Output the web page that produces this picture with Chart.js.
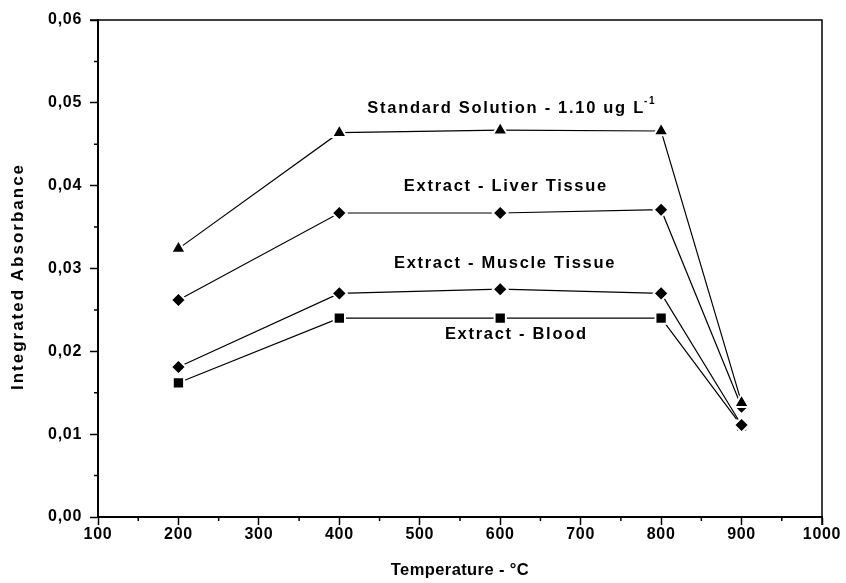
<!DOCTYPE html>
<html>
<head>
<meta charset="utf-8">
<script src="https://cdn.jsdelivr.net/npm/chart.js@4.4.0/dist/chart.umd.min.js"></script>
<style>
  html, body { margin: 0; padding: 0; background: #fff; }
  #chart { display: block; }
</style>
</head>
<body>
<canvas id="chart" width="846" height="583"></canvas>
<script>
// temperatures (°C) and integrated absorbance
const temps = [200, 400, 600, 800, 900];
const standardSol = [0.0324, 0.0464, 0.0467, 0.0466, 0.0138];
const liverTissue = [0.0262, 0.0367, 0.0367, 0.0371, 0.0133];
const muscleTissue = [0.0181, 0.0270, 0.0275, 0.0270, 0.0111];
const bloodExtract = [0.0162, 0.0240, 0.0240, 0.0240, 0.0110];

const xMinor = [150, 250, 350, 450, 550, 650, 750, 850, 950];
const yMinor = [0.005, 0.015, 0.025, 0.035, 0.045, 0.055];

const FAMILY = '"Liberation Sans", Arial, sans-serif';
const NOTE_FONT = 'bold 16.5px ' + FAMILY;

function pts(ys) {
    return temps.map((t, i) => ({ x: t, y: ys[i] }));
}

function series(label, ys, style, r) {
    return {
        label: label,
        data: pts(ys),
        borderColor: '#000',
        borderWidth: 1.2,
        pointStyle: style,
        pointRadius: r,
        pointBackgroundColor: '#000',
        pointBorderColor: '#fff',
        pointBorderWidth: 2,
        tension: 0
    };
}

// labels placed next to each curve (data units)
const notes = [
    { text: 'Standard Solution - 1.10 ug L', sup: '-1', x: 615, y: 0.0493 },
    { text: 'Extract - Liver Tissue', x: 607, y: 0.0399 },
    { text: 'Extract - Muscle Tissue', x: 606, y: 0.0306 },
    { text: 'Extract - Blood', x: 620, y: 0.0220 }
];

const spacingPlugin = {
    id: 'spacing',
    beforeLayout(chart) { chart.ctx.letterSpacing = '0.7px'; },
    beforeDraw(chart) { chart.ctx.letterSpacing = '0.7px'; }
};

const framePlugin = {
    id: 'frame',
    afterDraw(chart) {
        const ctx = chart.ctx;
        const a = chart.chartArea;
        const xs = chart.scales.x, ys = chart.scales.y;
        ctx.save();
        ctx.strokeStyle = '#000';
        // top and right edges
        ctx.lineWidth = 1.5;
        ctx.beginPath();
        ctx.moveTo(a.left - 8, a.top);
        ctx.lineTo(a.right, a.top);
        ctx.lineTo(a.right, a.bottom + 8);
        ctx.stroke();
        // minor ticks
        ctx.beginPath();
        xMinor.forEach(v => {
            const px = xs.getPixelForValue(v);
            ctx.moveTo(px, a.bottom);
            ctx.lineTo(px, a.bottom + 4);
        });
        yMinor.forEach(v => {
            const py = ys.getPixelForValue(v);
            ctx.moveTo(a.left - 4, py);
            ctx.lineTo(a.left, py);
        });
        ctx.stroke();

        // curve labels
        ctx.fillStyle = '#000';
        ctx.textBaseline = 'middle';
        ctx.textAlign = 'left';
        ctx.letterSpacing = '1.7px';
        notes.forEach(n => {
            const px = xs.getPixelForValue(n.x);
            const py = ys.getPixelForValue(n.y);
            ctx.font = NOTE_FONT;
            const w = ctx.measureText(n.text).width;
            let sw = 0;
            if (n.sup) {
                ctx.font = 'bold 10px ' + FAMILY;
                sw = ctx.measureText(n.sup).width;
            }
            const x0 = px - (w + sw) / 2;
            ctx.font = NOTE_FONT;
            ctx.fillText(n.text, x0, py);
            if (n.sup) {
                ctx.font = 'bold 10px ' + FAMILY;
                ctx.fillText(n.sup, x0 + w - 1, py - 7);
            }
        });

        // axis titles
        ctx.textAlign = 'center';
        ctx.font = 'bold 16.5px ' + FAMILY;
        ctx.letterSpacing = '0.4px';
        ctx.fillText('Temperature - °C', (a.left + a.right) / 2, 570);
        ctx.font = 'bold 17px ' + FAMILY;
        ctx.letterSpacing = '2px';
        ctx.translate(18, (a.top + a.bottom) / 2 + 8);
        ctx.rotate(-Math.PI / 2);
        ctx.fillText('Integrated Absorbance', 0, 0);
        ctx.restore();
    }
};

const tickFont = { family: FAMILY, size: 16, weight: 'bold' };

new Chart(document.getElementById('chart'), {
    type: 'line',
    data: {
        datasets: [
            series('Standard Solution - 1.10 ug L-1', standardSol, 'triangle', 8.5),
            series('Extract - Liver Tissue', liverTissue, 'rectRot', 7.5),
            series('Extract - Muscle Tissue', muscleTissue, 'rectRot', 7.5),
            series('Extract - Blood', bloodExtract, 'rect', 8)
        ]
    },
    options: {
        responsive: false,
        animation: false,
        layout: { padding: { top: 20, right: 24, left: 0, bottom: 0 } },
        plugins: {
            legend: { display: false },
            tooltip: { enabled: false }
        },
        scales: {
            x: {
                type: 'linear',
                min: 100,
                max: 1000,
                afterFit: (s) => { s.height = 66; },
                ticks: {
                    stepSize: 100,
                    color: '#000',
                    font: tickFont,
                    padding: 0,
                    maxRotation: 0,
                    callback: (v) => String(v)
                },
                grid: { drawOnChartArea: false, drawTicks: true, tickLength: 8, color: '#000', tickWidth: 1.5 },
                border: { display: true, color: '#000', width: 2 }
            },
            y: {
                min: 0,
                max: 0.06,
                afterFit: (s) => { s.width = 98; },
                ticks: {
                    stepSize: 0.01,
                    color: '#000',
                    font: tickFont,
                    padding: 8,
                    callback: (v) => v.toFixed(2).replace('.', ',')
                },
                grid: { drawOnChartArea: false, drawTicks: true, tickLength: 8, color: '#000', tickWidth: 1.5 },
                border: { display: true, color: '#000', width: 2 }
            }
        }
    },
    plugins: [spacingPlugin, framePlugin]
});
</script>
</body>
</html>
